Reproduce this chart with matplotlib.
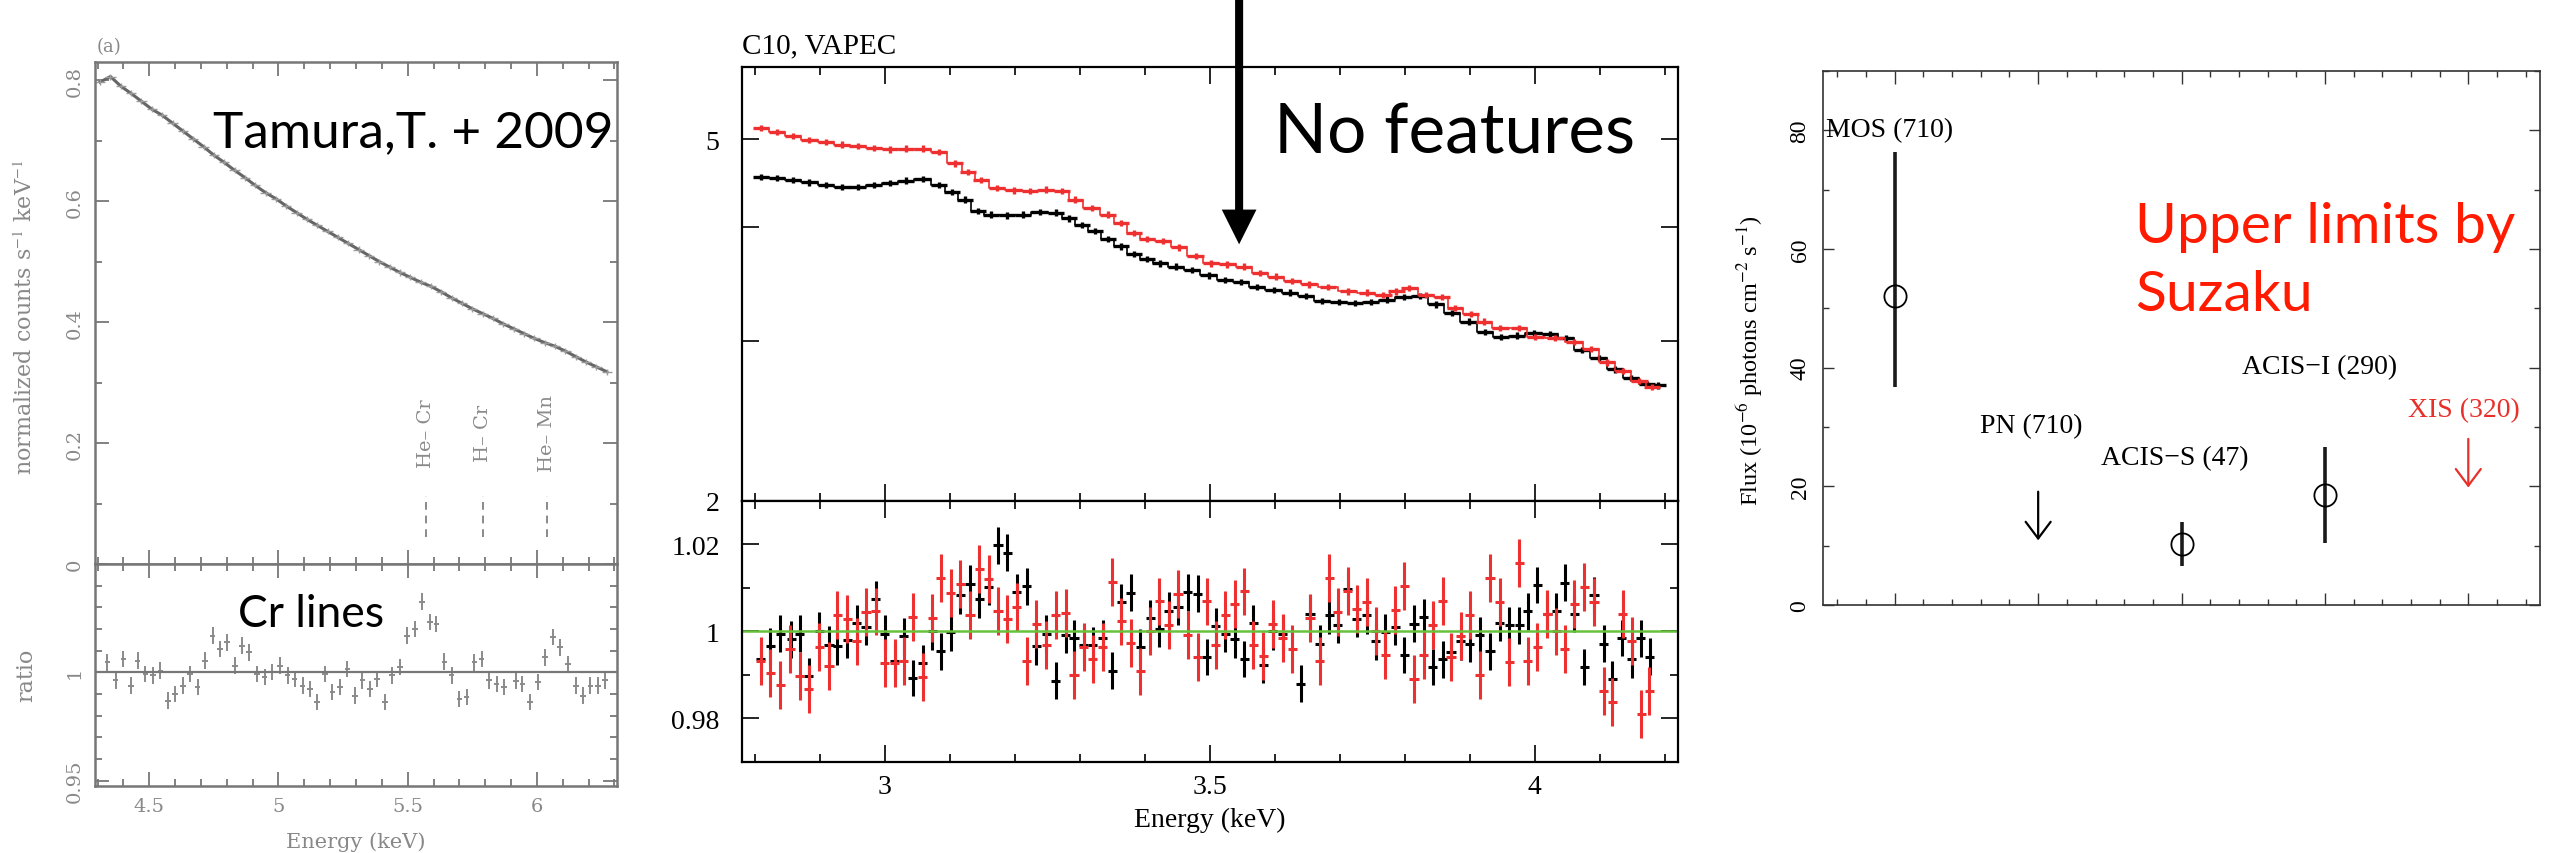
import numpy as np
import matplotlib.pyplot as plt
from matplotlib.ticker import MultipleLocator, FixedLocator, FixedFormatter, NullFormatter

plt.rcParams['font.family'] = ['Liberation Serif', 'DejaVu Serif']
plt.rcParams['mathtext.fontset'] = 'stix'

# ---------------- left panel: Tamura et al. 2009 ----------------
tam_E = [4.31, 4.35, 4.39, 4.43, 4.47, 4.51, 4.55, 4.59, 4.63, 4.67,
         4.71, 4.75, 4.79, 4.83, 4.87, 4.91, 4.95, 4.99, 5.03, 5.07,
         5.11, 5.15, 5.19, 5.23, 5.27, 5.31, 5.35, 5.39, 5.43, 5.47,
         5.51, 5.55, 5.59, 5.63, 5.67, 5.71, 5.75, 5.79, 5.83, 5.87,
         5.91, 5.95, 5.99, 6.03, 6.07, 6.11, 6.15, 6.19, 6.23, 6.27]
tam_counts = [0.797, 0.806, 0.790, 0.778, 0.765, 0.752, 0.742, 0.729, 0.716, 0.703,
              0.690, 0.676, 0.664, 0.651, 0.639, 0.626, 0.614, 0.604, 0.592, 0.581,
              0.570, 0.560, 0.550, 0.540, 0.530, 0.520, 0.510, 0.500, 0.491, 0.482,
              0.474, 0.466, 0.459, 0.450, 0.440, 0.431, 0.422, 0.414, 0.406, 0.397,
              0.389, 0.381, 0.373, 0.366, 0.360, 0.352, 0.343, 0.334, 0.326, 0.318]

tam_rE = [4.338, 4.370, 4.400, 4.430, 4.455, 4.485, 4.514, 4.543, 4.572, 4.600,
          4.630, 4.658, 4.687, 4.716, 4.745, 4.774, 4.802, 4.831, 4.860, 4.887,
          4.917, 4.946, 4.975, 5.007, 5.035, 5.062, 5.093, 5.122, 5.150, 5.180,
          5.209, 5.238, 5.267, 5.296, 5.325, 5.354, 5.382, 5.412, 5.440, 5.470,
          5.497, 5.527, 5.555, 5.585, 5.611, 5.642, 5.670, 5.700, 5.728, 5.758,
          5.786, 5.815, 5.844, 5.873, 5.919, 5.944, 5.974, 6.003, 6.031, 6.061,
          6.090, 6.119, 6.151, 6.177, 6.207, 6.235, 6.264]
tam_ratio = [1.0046, 0.9962, 1.0062, 0.9938, 1.0054, 0.9992, 0.9985, 1.0008, 0.9869, 0.9900,
             0.9938, 0.9992, 0.9931, 1.0054, 1.0169, 1.0108, 1.0138, 1.0031, 1.0123, 1.0092,
             0.9992, 0.9977, 1.0000, 1.0031, 0.9985, 0.9969, 0.9938, 0.9923, 0.9862, 0.9992,
             0.9908, 0.9931, 1.0015, 0.9892, 0.9962, 0.9923, 0.9969, 0.9862, 0.9985, 1.0023,
             1.0169, 1.0200, 1.0326, 1.0231, 1.0223, 1.0049, 0.9985, 0.9877, 0.9885, 1.0046,
             1.0062, 0.9962, 0.9946, 0.9931, 0.9960, 0.9946, 0.9862, 0.9954, 1.0069, 1.0162,
             1.0115, 1.0038, 0.9938, 0.9892, 0.9938, 0.9938, 0.9962]

line_E = [5.57, 5.79, 6.04]
line_names = ['He\u2013 Cr', 'H\u2013 Cr', 'He\u2013 Mn']

# ---------------- middle panel: C10, VAPEC ----------------
specE_k = [2.809, 2.834, 2.859, 2.884, 2.909, 2.934, 2.958, 2.983, 3.008, 3.033,
           3.058, 3.083, 3.103, 3.123, 3.143, 3.163, 3.188, 3.213, 3.238, 3.263,
           3.283, 3.303, 3.323, 3.343, 3.363, 3.383, 3.403, 3.423, 3.448, 3.473,
           3.498, 3.523, 3.548, 3.573, 3.598, 3.623, 3.648, 3.673, 3.698, 3.723,
           3.748, 3.773, 3.798, 3.823, 3.848, 3.873, 3.898, 3.923, 3.948, 3.973,
           3.998, 4.023, 4.048, 4.073, 4.098, 4.123, 4.148, 4.173, 4.190]
spec_k = [4.54, 4.53, 4.51, 4.48, 4.45, 4.43, 4.43, 4.45, 4.47, 4.50,
          4.52, 4.45, 4.37, 4.29, 4.17, 4.13, 4.12, 4.13, 4.16, 4.15,
          4.09, 4.02, 3.96, 3.88, 3.81, 3.74, 3.69, 3.65, 3.62, 3.59,
          3.54, 3.50, 3.48, 3.44, 3.41, 3.39, 3.36, 3.32, 3.31, 3.30,
          3.31, 3.33, 3.35, 3.36, 3.29, 3.22, 3.15, 3.07, 3.03, 3.04,
          3.06, 3.05, 3.02, 2.93, 2.87, 2.79, 2.73, 2.69, 2.68]

specE_r = [2.809, 2.834, 2.859, 2.884, 2.909, 2.934, 2.958, 2.983, 3.008, 3.033,
           3.058, 3.083, 3.108, 3.128, 3.148, 3.173, 3.198, 3.223, 3.248, 3.273,
           3.293, 3.318, 3.343, 3.363, 3.383, 3.403, 3.428, 3.453, 3.478, 3.502,
           3.527, 3.552, 3.577, 3.602, 3.627, 3.652, 3.682, 3.712, 3.742, 3.767,
           3.787, 3.807, 3.832, 3.857, 3.877, 3.902, 3.922, 3.947, 3.976, 4.001,
           4.031, 4.061, 4.086, 4.111, 4.136, 4.161, 4.180]
spec_r = [5.14, 5.09, 5.04, 4.99, 4.96, 4.93, 4.91, 4.89, 4.87, 4.88,
          4.88, 4.84, 4.70, 4.60, 4.51, 4.42, 4.39, 4.38, 4.40, 4.38,
          4.29, 4.20, 4.13, 4.04, 3.94, 3.88, 3.86, 3.80, 3.72, 3.65,
          3.64, 3.62, 3.56, 3.53, 3.49, 3.46, 3.44, 3.40, 3.39, 3.37,
          3.40, 3.43, 3.37, 3.35, 3.26, 3.21, 3.15, 3.10, 3.10, 3.03,
          3.02, 2.99, 2.94, 2.84, 2.78, 2.71, 2.67]

ratE_k = [2.809, 2.824, 2.839, 2.856, 2.869, 2.883, 2.899, 2.914, 2.927, 2.942,
          2.957, 2.971, 2.986, 3.000, 3.015, 3.029, 3.043, 3.058, 3.073, 3.086,
          3.101, 3.116, 3.131, 3.145, 3.160, 3.174, 3.188, 3.203, 3.218, 3.233,
          3.248, 3.263, 3.278, 3.291, 3.306, 3.320, 3.335, 3.350, 3.364, 3.378,
          3.393, 3.408, 3.422, 3.437, 3.451, 3.466, 3.481, 3.495, 3.509, 3.524,
          3.538, 3.553, 3.567, 3.582, 3.597, 3.612, 3.640, 3.654, 3.669, 3.684,
          3.697, 3.712, 3.726, 3.741, 3.755, 3.770, 3.785, 3.799, 3.814, 3.829,
          3.843, 3.858, 3.871, 3.886, 3.900, 3.915, 3.931, 3.946, 3.961, 3.976,
          3.989, 4.004, 4.019, 4.033, 4.046, 4.061, 4.076, 4.091, 4.106, 4.119,
          4.134, 4.149, 4.163, 4.177]
rat_k = [0.9937, 0.9966, 0.9995, 0.9982, 0.9995, 0.9897, 1.0002, 0.9970, 0.9966, 0.9980,
         1.0020, 1.0011, 1.0075, 0.9995, 0.9933, 0.9989, 0.9893, 0.9928, 1.0000, 0.9954,
         0.9998, 1.0083, 1.0110, 1.0074, 1.0102, 1.0198, 1.0181, 1.0090, 1.0104, 0.9966,
         0.9995, 0.9887, 0.9992, 0.9985, 0.9969, 0.9968, 0.9985, 0.9910, 1.0067, 1.0089,
         0.9964, 1.0031, 1.0006, 1.0048, 1.0056, 1.0090, 1.0087, 0.9941, 1.0012, 0.9995,
         0.9982, 0.9937, 1.0020, 0.9923, 1.0000, 0.9995, 0.9880, 1.0041, 0.9972, 1.0037,
         1.0015, 1.0098, 1.0029, 1.0037, 0.9977, 0.9998, 1.0011, 0.9946, 1.0018, 1.0033,
         0.9918, 0.9936, 0.9953, 0.9977, 0.9972, 0.9991, 0.9954, 1.0020, 1.0014, 1.0014,
         1.0046, 1.0107, 1.0041, 1.0046, 1.0112, 1.0041, 0.9918, 1.0083, 0.9972, 0.9891,
         0.9985, 0.9936, 0.9984, 0.9942]

ratE_r = [2.809, 2.824, 2.839, 2.854, 2.869, 2.883, 2.899, 2.914, 2.927, 2.942,
          2.957, 2.971, 2.986, 3.000, 3.015, 3.029, 3.043, 3.058, 3.073, 3.086,
          3.101, 3.116, 3.131, 3.145, 3.160, 3.174, 3.188, 3.203, 3.218, 3.233,
          3.248, 3.263, 3.278, 3.291, 3.306, 3.320, 3.335, 3.350, 3.364, 3.378,
          3.393, 3.408, 3.422, 3.437, 3.451, 3.466, 3.481, 3.495, 3.509, 3.524,
          3.538, 3.553, 3.567, 3.582, 3.597, 3.612, 3.627, 3.654, 3.669, 3.684,
          3.697, 3.712, 3.726, 3.741, 3.755, 3.770, 3.785, 3.799, 3.814, 3.829,
          3.843, 3.858, 3.871, 3.886, 3.900, 3.915, 3.931, 3.946, 3.961, 3.976,
          3.989, 4.004, 4.019, 4.033, 4.046, 4.061, 4.076, 4.091, 4.106, 4.119,
          4.135, 4.149, 4.164, 4.176]
rat_r = [0.9933, 0.9905, 0.9877, 0.9960, 0.9897, 0.9867, 0.9964, 0.9920, 1.0038, 1.0028,
         0.9977, 1.0044, 1.0046, 0.9928, 0.9928, 0.9933, 1.0034, 0.9895, 1.0031, 1.0123,
         1.0089, 1.0110, 1.0037, 1.0143, 1.0121, 1.0048, 1.0029, 1.0056, 0.9933, 1.0018,
         0.9969, 1.0037, 1.0043, 0.9899, 0.9964, 0.9937, 0.9964, 1.0113, 1.0023, 0.9974,
         0.9908, 1.0002, 1.0069, 1.0014, 1.0087, 0.9991, 0.9941, 1.0069, 0.9969, 1.0038,
         1.0064, 1.0092, 0.9968, 0.9943, 1.0018, 0.9985, 0.9960, 1.0031, 0.9933, 1.0123,
         1.0044, 1.0094, 1.0052, 1.0067, 1.0002, 0.9946, 1.0050, 1.0104, 0.9891, 0.9946,
         1.0015, 1.0071, 0.9941, 0.9989, 1.0038, 0.9899, 1.0123, 1.0067, 0.9930, 1.0158,
         0.9933, 0.9964, 1.0041, 1.0000, 0.9960, 1.0064, 1.0102, 1.0067, 0.9864, 0.9838,
         1.0041, 0.9979, 0.9810, 0.9864]

line_355 = 3.545
arrow_tip = 3.83

# ---------------- right panel: flux by instrument ----------------
det_x = [1, 3, 4]
det_flux = [52.1, 10.2, 18.6]
det_lo = [36.7, 6.5, 10.4]
det_hi = [76.4, 14.0, 26.7]
ul_x = [2, 5]
ul_flux = [19.1, 28.0]
ul_colors = ['black', '#e8302a']
det_names = ['MOS (710)', 'PN (710)', 'ACIS\u2212S (47)', 'ACIS\u2212I (290)', 'XIS (320)']
name_xy = [(0.52, 80.2), (1.95, 30.2), (2.95, 24.9), (3.96, 40.1), (4.97, 32.9)]
name_ha = ['left', 'center', 'center', 'center', 'center']
name_col = ['black', 'black', 'black', 'black', '#e8302a']

fig = plt.figure(figsize=(25.53, 8.54), dpi=100)

# ======== left panel ========
gray = '#777777'
ax_lt = fig.add_axes([0.0372, 0.3384, 0.2045, 0.5878])
ax_lb = fig.add_axes([0.0372, 0.0785, 0.2045, 0.2600])

ax_lt.plot(tam_E, tam_counts, color='#666666', lw=2.2)
ax_lt.errorbar(tam_E, tam_counts, xerr=0.02, yerr=0.005, fmt='none', ecolor='#9a9a9a', lw=1)
for e, nm in zip(line_E, line_names):
    ax_lt.text(e, 0.217, nm, rotation=90, ha='center', va='center',
               family='DejaVu Serif', fontsize=14, color='#8a8a8a')
    ax_lt.vlines(e, 0.045, 0.113, colors='#8a8a8a', lw=1.4, linestyles=(0, (4, 3)))
ax_lt.set_xlim(4.29, 6.31)
ax_lt.set_ylim(0, 0.83)

ax_lb.errorbar(tam_rE, tam_ratio, xerr=0.011, yerr=0.0038, fmt='none',
               ecolor='#8a8a8a', lw=1.4)
ax_lb.axhline(1, color='#777777', lw=1.6)
ax_lb.set_xlim(4.29, 6.31)
ax_lb.set_ylim(0.9475, 1.05)

for ax in (ax_lt, ax_lb):
    for sp in ax.spines.values():
        sp.set_color(gray)
        sp.set_linewidth(1.8)
    ax.xaxis.set_major_locator(MultipleLocator(0.5))
    ax.xaxis.set_minor_locator(MultipleLocator(0.1))
    ax.tick_params(which='both', direction='in', top=True, right=True,
                   color=gray, labelcolor='#888888', labelsize=14, width=1.3, pad=8)
    ax.tick_params(which='major', length=10)
    ax.tick_params(which='minor', length=5)

ax_lt.yaxis.set_major_locator(FixedLocator([0, 0.2, 0.4, 0.6, 0.8]))
ax_lt.yaxis.set_major_formatter(FixedFormatter(['0', '0.2', '0.4', '0.6', '0.8']))
ax_lt.yaxis.set_minor_locator(MultipleLocator(0.1))
ax_lt.tick_params(labelbottom=False)
ax_lb.yaxis.set_major_locator(FixedLocator([0.95, 1.0]))
ax_lb.yaxis.set_major_formatter(FixedFormatter(['0.95', '1']))
ax_lb.yaxis.set_minor_locator(MultipleLocator(0.01))
ax_lb.xaxis.set_major_locator(FixedLocator([4.5, 5.0, 5.5, 6.0]))
ax_lb.xaxis.set_major_formatter(FixedFormatter(['4.5', '5', '5.5', '6']))
for ax in (ax_lt, ax_lb):
    for lab in ax.get_yticklabels():
        lab.set_rotation(90)
        lab.set_va('center')
        lab.set_family('DejaVu Serif')
    for lab in ax.get_xticklabels():
        lab.set_family('DejaVu Serif')

ax_lt.set_ylabel('normalized counts s$^{-1}$ keV$^{-1}$', family='DejaVu Serif',
                 fontsize=16, color='#888888')
ax_lt.yaxis.set_label_coords(-0.111, 0.494)
ax_lb.set_ylabel('ratio', family='DejaVu Serif', fontsize=16, color='#888888')
ax_lb.yaxis.set_label_coords(-0.111, 0.505)
ax_lb.set_xlabel('Energy (keV)', family='DejaVu Serif', fontsize=15, color='#888888')
ax_lb.xaxis.set_label_coords(0.5, -0.203)
fig.text(0.038, 0.945, '(a)', family='DejaVu Serif', fontsize=13, color='#888888',
         va='center')
fig.text(0.0834, 0.8279, 'Tamura,T. + 2009', family='Lato', fontsize=37,
         color='black', va='baseline')
fig.text(0.0932, 0.2658, 'Cr lines', family='Lato', fontsize=32, color='black',
         va='baseline')

# ======== middle panel ========
red = '#ee3030'
ax_mt = fig.add_axes([0.2906, 0.4122, 0.3666, 0.5082])
ax_mb = fig.add_axes([0.2906, 0.1066, 0.3666, 0.3056])

ax_mt.step(specE_k, spec_k, where='mid', color='black', lw=1.2)
ax_mt.errorbar(specE_k, spec_k, xerr=0.0125, yerr=[s * 0.008 for s in spec_k],
               fmt='none', ecolor='black', lw=2.4)
ax_mt.step(specE_r, spec_r, where='mid', color=red, lw=1.2)
ax_mt.errorbar(specE_r, spec_r, xerr=0.0125, yerr=[s * 0.008 for s in spec_r],
               fmt='none', ecolor=red, lw=2.4)
ax_mt.set_yscale('log')
ax_mt.set_ylim(2, 6)
ax_mt.yaxis.set_major_locator(FixedLocator([2, 3, 4, 5]))
ax_mt.yaxis.set_major_formatter(FixedFormatter(['2', '', '', '5']))
ax_mt.yaxis.set_minor_locator(FixedLocator([]))
ax_mt.yaxis.set_minor_formatter(NullFormatter())
ax_mt.tick_params(labelbottom=False)

ax_mb.errorbar(ratE_k, rat_k, xerr=0.007, yerr=0.0042, fmt='none', ecolor='black', lw=2.2)
ax_mb.errorbar(ratE_r, rat_r, xerr=0.007, yerr=0.0055, fmt='none', ecolor=red, lw=2.2)
ax_mb.axhline(1, color='#66c23a', lw=1.8)
ax_mb.set_ylim(0.97, 1.03)
ax_mb.yaxis.set_major_locator(FixedLocator([0.98, 1.0, 1.02]))
ax_mb.yaxis.set_major_formatter(FixedFormatter(['0.98', '1', '1.02']))
ax_mb.yaxis.set_minor_locator(FixedLocator([0.99, 1.01]))
ax_mb.xaxis.set_major_locator(FixedLocator([3.0, 3.5, 4.0]))
ax_mb.xaxis.set_major_formatter(FixedFormatter(['3', '3.5', '4']))

for ax in (ax_mt, ax_mb):
    ax.set_xlim(2.78, 4.22)
    if ax is ax_mt:
        ax.xaxis.set_major_locator(FixedLocator([3.0, 3.5, 4.0]))
    ax.xaxis.set_minor_locator(MultipleLocator(0.1))
    for sp in ax.spines.values():
        sp.set_linewidth(1.6)
    ax.tick_params(which='both', direction='in', top=True, right=True,
                   labelsize=20, width=1.2)
    ax.tick_params(which='major', length=12)
    ax.tick_params(which='minor', length=6)
    ax.tick_params(axis='y', pad=16)
    ax.tick_params(axis='x', pad=9)

ax_mb.set_xlabel('Energy (keV)', fontsize=20)
ax_mb.xaxis.set_label_coords(0.5, -0.172)
fig.text(0.2906, 0.938, 'C10, VAPEC', fontsize=21, va='baseline')
ax_mt.annotate('', xy=(line_355, arrow_tip), xycoords='data',
               xytext=(line_355, 1.0), textcoords=('data', 'figure fraction'),
               arrowprops=dict(facecolor='black', edgecolor='none', width=5.8,
                               headwidth=25, headlength=25, shrink=0),
               annotation_clip=False)
fig.text(0.4990, 0.8208, 'No features', family='Lato', fontsize=50, va='baseline')

# ======== right panel ========
ax_r = fig.add_axes([0.7141, 0.2904, 0.2808, 0.6253])
yerr_lo = [f - l for f, l in zip(det_flux, det_lo)]
yerr_hi = [h - f for f, h in zip(det_flux, det_hi)]
ax_r.errorbar(det_x, det_flux, yerr=[yerr_lo, yerr_hi], fmt='o', ms=16, mfc='none',
              mec='black', mew=1.3, ecolor='#1a1a1a', elinewidth=2.6, capsize=0)
for x, u, c in zip(ul_x, ul_flux, ul_colors):
    ax_r.annotate('', xy=(x, u - 8.2), xytext=(x, u),
                  arrowprops=dict(arrowstyle='->,head_length=0.6,head_width=0.45',
                                  mutation_scale=20, lw=1.6, color=c,
                                  shrinkA=0, shrinkB=0))
for nm, (x, y), ha, c in zip(det_names, name_xy, name_ha, name_col):
    ax_r.text(x, y, nm, ha=ha, va='center', fontsize=20, color=c)
ax_r.set_xlim(0.5, 5.5)
ax_r.set_ylim(0, 90)
ax_r.xaxis.set_major_locator(FixedLocator([1, 2, 3, 4, 5]))
ax_r.xaxis.set_minor_locator(MultipleLocator(0.2))
ax_r.xaxis.set_major_formatter(NullFormatter())
ax_r.yaxis.set_major_locator(MultipleLocator(20))
ax_r.yaxis.set_minor_locator(MultipleLocator(10))
for sp in ax_r.spines.values():
    sp.set_linewidth(1.2)
    sp.set_color('#333333')
ax_r.tick_params(which='both', direction='in', top=True, right=True,
                 labelsize=17, width=1.0, color='#333333', pad=9)
ax_r.tick_params(which='major', length=8)
ax_r.tick_params(which='minor', length=4)
ax_r.tick_params(axis='x', which='major', length=9)
for lab in ax_r.get_yticklabels():
    lab.set_rotation(90)
    lab.set_va('center')
ax_r.set_ylabel('Flux (10$^{-6}$ photons cm$^{-2}$ s$^{-1}$)', fontsize=17.5)
ax_r.yaxis.set_label_coords(-0.081, 0.459)
fig.text(0.8363, 0.7155, 'Upper limits by', family='Lato', fontsize=41,
         color='#ff1a00', va='baseline')
fig.text(0.8363, 0.6358, 'Suzaku', family='Lato', fontsize=41,
         color='#ff1a00', va='baseline')

fig.savefig('out.png', dpi=100)
